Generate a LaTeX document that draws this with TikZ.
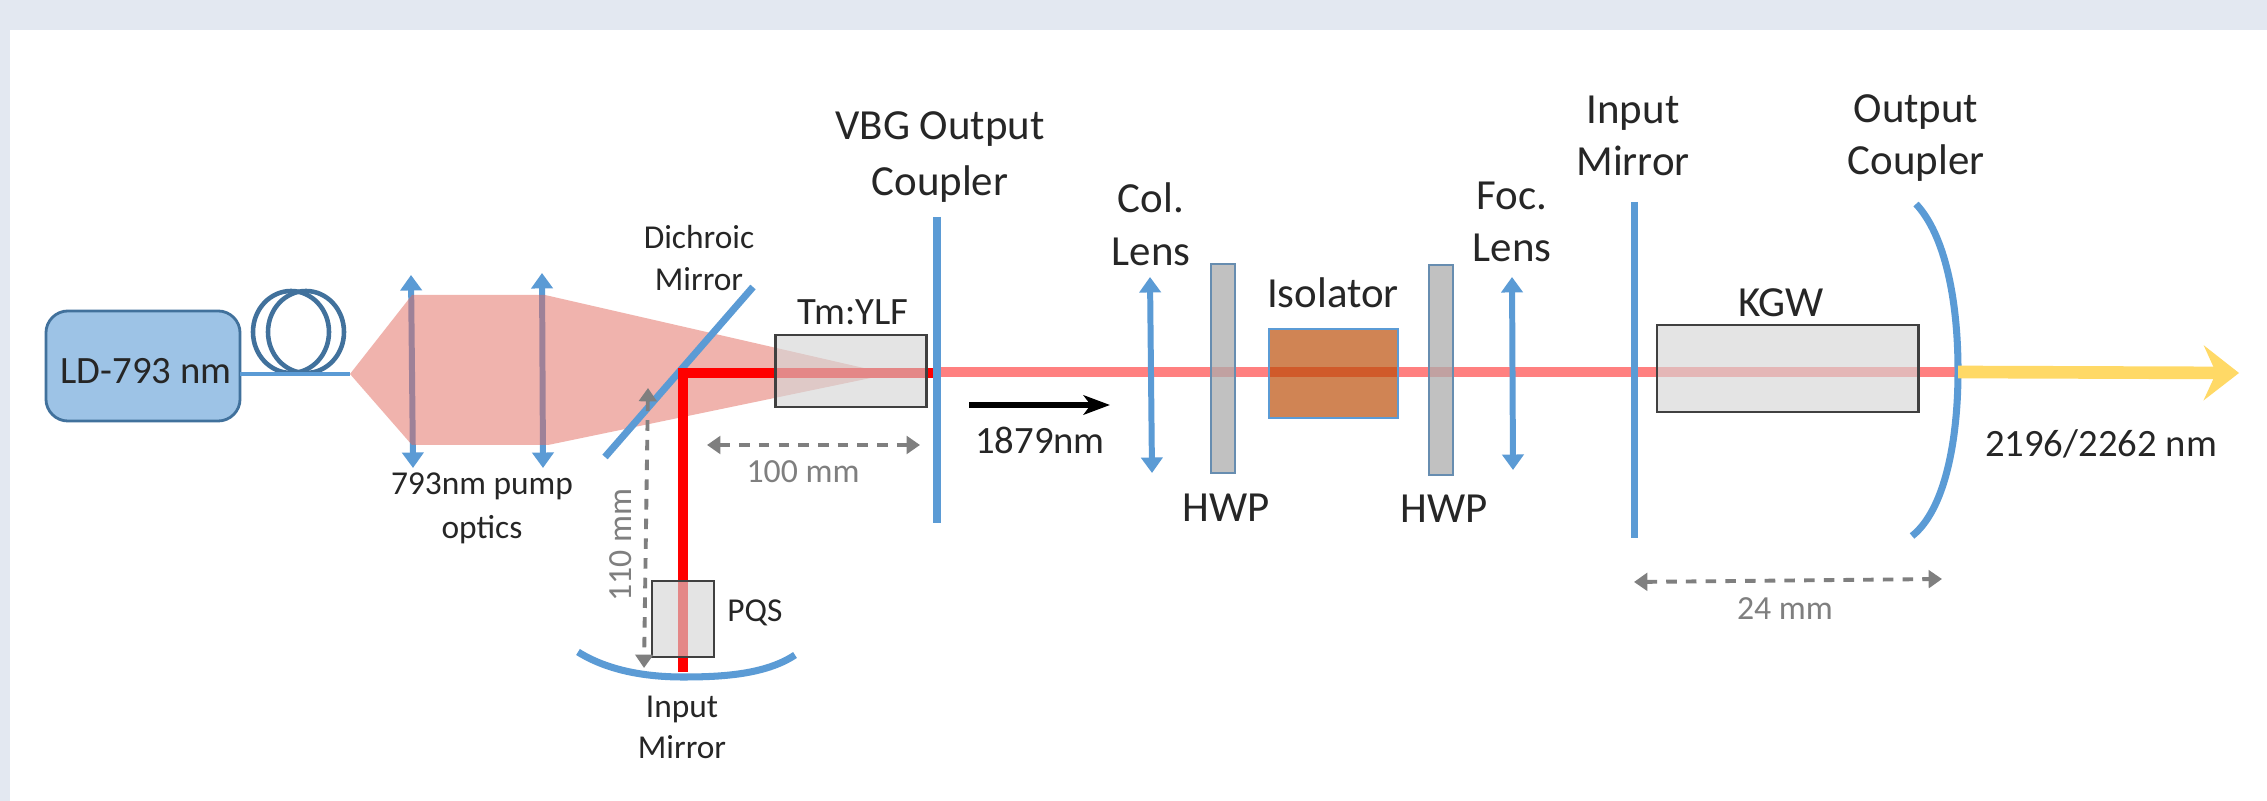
\documentclass[tikz,border=0pt]{standalone}
\usepackage{fontspec}
\setmainfont{Carlito}
\usetikzlibrary{arrows.meta}
\definecolor{mirrorblue}{HTML}{5B9BD5}
\definecolor{coilblue}{HTML}{41719C}
\definecolor{pumpred}{HTML}{E2685C}
\definecolor{paleline}{HTML}{FF8080}
\definecolor{outyellow}{HTML}{FFD966}
\definecolor{dimgray}{HTML}{7F7F7F}
\definecolor{pagetint}{HTML}{E3E8F1}
\definecolor{textblack}{HTML}{262626}
\tikzset{
    biglabel/.style={font=\fontsize{12.2}{15}\selectfont, text=textblack, align=center, inner sep=0pt},
    midlabel/.style={font=\fontsize{11}{13.5}\selectfont, text=textblack, align=center, inner sep=0pt},
    smalllabel/.style={font=\fontsize{9.5}{11.7}\selectfont, text=textblack, align=center, inner sep=0pt},
    dimlabel/.style={font=\fontsize{9.6}{11.7}\selectfont, text=dimgray, inner sep=0pt},
    mirror/.style={draw=mirrorblue, line width=2pt},
    lens/.style={draw=mirrorblue, line width=1.7pt, {Triangle[width=6pt,length=4.4pt]}-{Triangle[width=6pt,length=4.4pt]}},
    dimline/.style={draw=dimgray, line width=1.1pt, dash pattern=on 3pt off 2.6pt, {Triangle[width=5pt,length=3.8pt]}-{Triangle[width=5pt,length=3.8pt]}},
    crystal/.style={draw=black!75, line width=.8pt, fill=black!16, fill opacity=.635, inner sep=0pt, outer sep=0pt},
    waveplate/.style={draw=coilblue!80, line width=.8pt, fill=black!32, fill opacity=.75, inner sep=0pt, outer sep=0pt, minimum width=.24cm},
}
\begin{document}
\begin{tikzpicture}[x=.01cm,y=-.01cm]
        \useasboundingbox (0,0) rectangle (2267,801);
        \fill[pagetint] (0,0) rectangle (2267,801);
        \fill[white] (10,30) rectangle (2267,801);

        \coordinate (fibreend) at (350,374);
        \coordinate (pumptip) at (890,374);
        \coordinate (corner) at (683,373);
        \coordinate (vbgbeam) at (937,372);
        \coordinate (coupbeam) at (1958,372);
        \coordinate (outtip) at (2239,373);

        \node[draw=coilblue, line width=.8pt, fill=mirrorblue!60, rounded corners=.22cm, minimum width=1.94cm, minimum height=1.1cm, inner sep=0pt, outer sep=0pt] (ldbox) at (143,366) {};
        \node[midlabel] (ldtext) at (146,371) {LD-793 nm};
        \draw[coilblue, line width=1.3pt] (291,332) ellipse [x radius=38, y radius=41];
        \draw[coilblue, line width=1.3pt] (306,332) ellipse [x radius=38, y radius=41];
        \draw[mirrorblue, line width=1.4pt] (ldbox.east |- fibreend) -- (fibreend);

        \draw[lens] (411,275) -- (413,468);
        \draw[lens] (542,273) -- (543,468);
        \fill[pumpred, opacity=.5] (fibreend) -- (412,295) -- (545,295) -- (pumptip) -- (548,445) -- (412,445) -- cycle;

        \draw[paleline, line width=2.6pt] (vbgbeam) -- (coupbeam);
        \draw[mirror] (605,457) -- (753,287);
        \draw[red, line width=3.1pt, line join=miter] (vbgbeam |- corner) -- (corner) -- (683,672);

        \draw[mirror] (578,652) .. controls (610,672) and (650,677) .. (683,677) .. controls (720,677) and (765,675) .. (795,655);
        \draw[mirror] (937,217) -- (937,523);
        \draw[mirror] (1634,202) -- (1634,538);
        \draw[mirror] (1916,204) .. controls (1945,235) and (1958,300) .. (1958,371) .. controls (1958,440) and (1945,510) .. (1912,536);
        \draw[lens] (1150,277) -- (1152,473);
        \draw[lens] (1512,277) -- (1513,470);

        \node[crystal, minimum width=.62cm, minimum height=.76cm] (pqsbox) at (683,619) {};
        \node[crystal, minimum width=1.505cm, minimum height=.72cm] (tmbox) at (851,371) {};
        \node[crystal, minimum width=2.61cm, minimum height=.87cm] (kgwbox) at (1787.5,368.5) {};
        \node[waveplate, minimum height=2.09cm] (hwpone) at (1223,368.5) {};
        \node[waveplate, minimum height=2.1cm] (hwptwo) at (1441,370) {};
        \node[draw=mirrorblue, line width=.8pt, fill={rgb,255:red,185;green,72;blue,0}, fill opacity=.67, minimum width=1.29cm, minimum height=.89cm, inner sep=0pt, outer sep=0pt] (isobox) at (1333.5,373.5) {};

        \draw[outyellow, line width=3.6pt, -{Stealth[length=10pt,width=15.5pt,inset=3.5pt]}] (coupbeam) -- (outtip);
        \draw[black, line width=1.7pt, -{Stealth[length=7.5pt,width=5.5pt,inset=2pt]}] (969,405) -- (1110,405);

        \draw[dimline] (707,445) -- (920,445);
        \draw[dimline] (648,388) -- (644,668);
        \draw[dimline] (1634,582) -- (1942,579);

        \node[dimlabel] (hundred) at (803,472) {100 mm};
        \node[dimlabel, rotate=90] (hundredten) at (621,545) {110 mm};
        \node[dimlabel] (twentyfour) at (1785,609) {24 mm};

        \node[smalllabel] (dichroic) at (699,258) {Dichroic\\Mirror};
        \node[smalllabel] (pumplabel) at (482,508) {793nm pump\\[.8pt]optics};
        \node[smalllabel] (inmirrorone) at (682,727) {Input\\Mirror};
        \node[smalllabel] (pqs) at (755,613) {PQS};
        \node[midlabel] (tmyag) at (853,312) {Tm:YLF};
        \node[biglabel] (vbg) at (940,157) {VBG Output\\[1pt]Coupler};
        \node[biglabel] (collens) at (1151,224) {Col.\\Lens};
        \node[biglabel] (foclens) at (1512,222) {Foc.\\Lens};
        \node[biglabel] (isolator) at (1333,293) {Isolator};
        \node[biglabel] (hwpa) at (1226,508) {HWP};
        \node[biglabel] (hwpb) at (1444,509) {HWP};
        \node[biglabel] (inmirrortwo) at (1633,136) {Input\\Mirror};
        \node[biglabel] (outcoupler) at (1916,138) {Output\\Coupler};
        \node[biglabel] (kgw) at (1781,303) {KGW};
        \node[midlabel] (firstwave) at (1040,440) {1879nm};
        \node[midlabel] (secondwave) at (2101,444) {2196/2262 nm};
    \end{tikzpicture}
\end{document}
